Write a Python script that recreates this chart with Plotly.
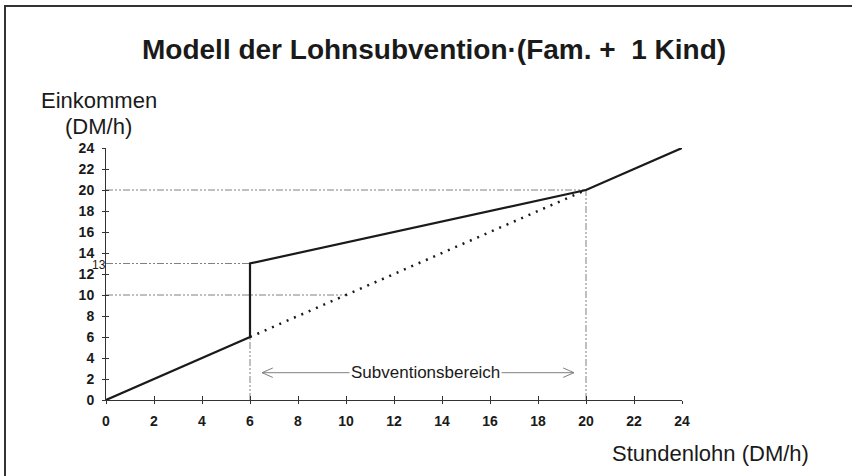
import plotly.graph_objects as go

# ---- data ----
income_x = [0, 6, 6, 20, 24]
income_y = [0, 6, 13, 20, 24]
nosub_x = [6, 20]
nosub_y = [6, 20]
x_ticks = list(range(0, 25, 2))
y_ticks = list(range(0, 25, 2))
# reference lines: (x0, y0, x1, y1)
ref_lines = [(0, 20, 20, 20), (0, 13, 6, 13), (0, 10, 10, 10), (6, 0, 6, 6), (20, 0, 20, 20)]
arrow_x = [6.5, 19.5]
arrow_y = 2.6
label_text = "Subventionsbereich"
title_text = "Modell der Lohnsubvention\u00b7(Fam. +  1 Kind)"

W, H = 852, 476
L, R, T, B = 106, 170, 148, 76
PW, PH = W - L - R, H - T - B

def px(x):
    return (x - L) / PW

def py(y):
    return (H - B - y) / PH

FONT = "Arial, Liberation Sans, sans-serif"
INK = "#1a1a1a"
GRAY = "#808080"

fig = go.Figure()

for (x0, y0, x1, y1) in ref_lines:
    fig.add_trace(go.Scatter(x=[x0, x1], y=[y0, y1], mode="lines",
                             line=dict(color=GRAY, width=1, dash="7px,2px,2px,2px,2px,2px"),
                             hoverinfo="skip", showlegend=False))

fig.add_trace(go.Scatter(x=nosub_x, y=nosub_y, mode="lines",
                         line=dict(color=INK, width=2.5, dash="2px,6px"),
                         showlegend=False))
fig.add_trace(go.Scatter(x=income_x, y=income_y, mode="lines",
                         line=dict(color=INK, width=2.2),
                         showlegend=False))

# arrow line with open heads
ah_dx, ah_dy = 0.45, 0.45
fig.add_trace(go.Scatter(x=arrow_x, y=[arrow_y, arrow_y], mode="lines",
                         line=dict(color=GRAY, width=1), showlegend=False, hoverinfo="skip"))
for xe, s in [(arrow_x[0], 1), (arrow_x[1], -1)]:
    fig.add_trace(go.Scatter(x=[xe + s * ah_dx, xe, xe + s * ah_dx],
                             y=[arrow_y + ah_dy, arrow_y, arrow_y - ah_dy], mode="lines",
                             line=dict(color=GRAY, width=1), showlegend=False, hoverinfo="skip"))

tickfont = dict(family=FONT, size=14, color=INK)
axis_common = dict(showgrid=False, zeroline=False, showline=True, linecolor="#333",
                   linewidth=1, ticks="outside", ticklen=3, tickcolor="#333",
                   tickfont=tickfont, range=[0, 24], fixedrange=True)

fig.update_layout(
    width=W, height=H,
    margin=dict(l=L, r=R, t=T, b=B, autoexpand=False),
    paper_bgcolor="white", plot_bgcolor="white",
    xaxis=dict(**axis_common, tickvals=x_ticks, ticktext=[f"<b>{v}</b>" for v in x_ticks],
               ticklabelstandoff=5),
    yaxis=dict(**axis_common, tickvals=y_ticks, ticktext=[f"<b>{v}</b>" for v in y_ticks],
               ticklabelstandoff=5),
    xaxis2=dict(overlaying="x", anchor="y", side="bottom", range=[0, 24], tickvals=x_ticks,
                ticks="inside", ticklen=4, tickcolor="#333", showticklabels=False,
                showgrid=False, zeroline=False, showline=False, fixedrange=True),
    yaxis2=dict(overlaying="y", anchor="x", side="left", range=[0, 24], tickvals=y_ticks,
                ticks="inside", ticklen=3, tickcolor="#333", showticklabels=False,
                showgrid=False, zeroline=False, showline=False, fixedrange=True),
    showlegend=False,
)
# dummy trace to activate overlay axes
fig.add_trace(go.Scatter(x=[None], y=[None], xaxis="x2", yaxis="y2", showlegend=False))

# frame
fig.add_shape(type="rect", xref="paper", yref="paper",
              x0=px(5), x1=px(W + 20), y0=py(H + 20), y1=py(6),
              line=dict(color="#333", width=2), layer="below")

ann = [
    dict(text=f"<b>{title_text}</b>", x=px(434), y=py(49), size=28),
    dict(text="Einkommen", x=px(99), y=py(100), size=22),
    dict(text="(DM/h)", x=px(98), y=py(126), size=22),
    dict(text="Stundenlohn (DM/h)", x=px(710), y=py(453), size=22),
    dict(text="13", x=px(99), y=py(265), size=12),
]
for a in ann:
    fig.add_annotation(text=a["text"], xref="paper", yref="paper", x=a["x"], y=a["y"],
                       xanchor="center", yanchor="middle", showarrow=False,
                       font=dict(family=FONT, size=a["size"], color=INK))

fig.add_annotation(text=label_text, x=13.3, y=arrow_y, xref="x", yref="y",
                   showarrow=False, bgcolor="white", borderpad=1,
                   font=dict(family=FONT, size=17, color=INK))

fig.write_html("out.html", config={"displayModeBar": False},
               post_script="document.body.style.margin='0';document.body.style.overflow='hidden';")
